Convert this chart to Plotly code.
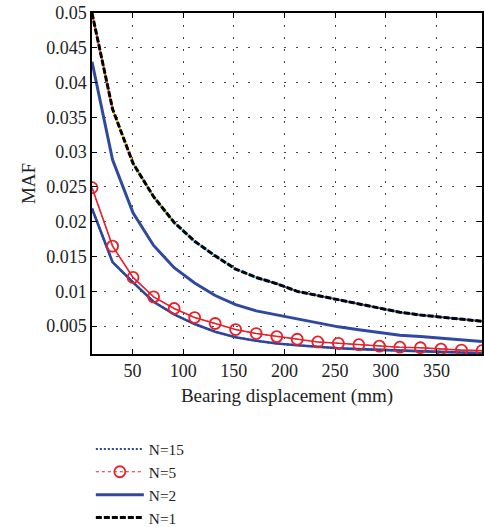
import plotly.graph_objects as go

# Data
x = [10, 30.3, 50.5, 70.8, 91.1, 111.3, 131.6, 151.8, 172.1, 192.4,
     212.6, 232.9, 253.2, 273.4, 293.7, 313.9, 334.2, 354.5, 374.7, 395]

n1 = [0.0500, 0.0362, 0.0284, 0.0236, 0.0199, 0.0172, 0.0151, 0.0132, 0.0120, 0.0111,
      0.0100, 0.0094, 0.0087, 0.0081, 0.0075, 0.0070, 0.0066, 0.0063, 0.0060, 0.0057]
n2 = [0.0430, 0.0289, 0.0213, 0.0166, 0.0134, 0.0112, 0.0094, 0.0081, 0.0072, 0.0066,
      0.0060, 0.0055, 0.0049, 0.0045, 0.0041, 0.0037, 0.0035, 0.0033, 0.0030, 0.0028]
n5 = [0.0249, 0.0165, 0.0120, 0.00921, 0.00754, 0.00624, 0.00538, 0.00451, 0.00394, 0.00350,
      0.00312, 0.00273, 0.00254, 0.00234, 0.00213, 0.00198, 0.00190, 0.00170, 0.00156, 0.00148]
n15 = [0.0219, 0.0142, 0.0113, 0.0085, 0.0067, 0.0053, 0.0042, 0.0034, 0.0029, 0.0025,
       0.00225, 0.0020, 0.00182, 0.0017, 0.00158, 0.00148, 0.0014, 0.0013, 0.00122, 0.00115]

x_ticks = [50, 100, 150, 200, 250, 300, 350]
y_ticks = [0.005, 0.01, 0.015, 0.02, 0.025, 0.03, 0.035, 0.04, 0.045, 0.05]
y_ticktext = ["0.005", "0.01", "0.015", "0.02", "0.025", "0.03", "0.035", "0.04", "0.045", "0.05"]

# colours of the thin curves seen through the gaps of the black dashes
under_segments = [(0, 2, "#D95319"), (1, 3, "#EDB120"), (2, 5, "#77AC30"),
                  (4, 9, "#4DBEEE"), (8, 20, "#3F51A8")]

BLUE = "#3048A0"
RED = "#E8202A"
FONT = "Liberation Serif, Times New Roman, serif"

fig = go.Figure()

# hidden underlay curves
for a, b, c in under_segments:
    fig.add_trace(go.Scatter(x=x[a:b], y=n1[a:b], mode="lines",
                             line=dict(color=c, width=2), showlegend=False,
                             hoverinfo="skip"))
fig.add_trace(go.Scatter(x=x[0:3], y=n15[0:3], mode="lines",
                         line=dict(color="#4DBEEE", width=2), showlegend=False, hoverinfo="skip"))

# N=1
fig.add_trace(go.Scatter(x=x, y=n1, mode="lines", name="N=1", legendrank=4,
                         line=dict(color="black", width=3, dash="6px,2px")))
# N=2
fig.add_trace(go.Scatter(x=x, y=n2, mode="lines", name="N=2", legendrank=3,
                         line=dict(color=BLUE, width=3)))
# N=15 : thick solid base + dotted line
fig.add_trace(go.Scatter(x=x, y=n15, mode="lines", showlegend=False, hoverinfo="skip",
                         line=dict(color=BLUE, width=2.6)))
fig.add_trace(go.Scatter(x=x, y=n15, mode="lines", name="N=15", legendrank=1,
                         line=dict(color="#2C4499", width=2, dash="2px,2px")))
# N=5 : red line + markers
fig.add_trace(go.Scatter(x=x, y=n5, mode="lines", showlegend=False, hoverinfo="skip",
                         line=dict(color=RED, width=1.6)))
fig.add_trace(go.Scatter(x=x, y=n5, mode="lines+markers", name="N=5", legendrank=2,
                         line=dict(color=RED, width=1, dash="dot"),
                         marker=dict(symbol="circle-open", size=11, color=RED,
                                     line=dict(width=1.8, color=RED))))

axis_common = dict(showline=True, linecolor="black", linewidth=1.5, mirror="ticks",
                   ticks="inside", ticklen=5, tickcolor="black", tickwidth=1,
                   showgrid=True, gridcolor="#444444", gridwidth=1, griddash="2px,10px",
                   zeroline=False, tickfont=dict(family=FONT, size=18, color="#222"))

fig.update_xaxes(range=[10, 395], tickvals=x_ticks,
                 title=dict(text="Bearing displacement (mm)", font=dict(family=FONT, size=19, color="#222"),
                            standoff=8),
                 **axis_common)
fig.update_yaxes(range=[0.001, 0.05], tickvals=y_ticks, ticktext=y_ticktext,
                 title=dict(text="MAF", font=dict(family=FONT, size=19, color="#222"), standoff=6),
                 **axis_common)

fig.update_layout(
    width=484, height=527,
    margin=dict(l=92, r=2, t=13, b=173, autoexpand=False),
    plot_bgcolor="white", paper_bgcolor="white",
    font=dict(family=FONT, color="#222"),
    showlegend=True,
    legend=dict(x=-0.003, y=-0.23, xanchor="left", yanchor="top",
                font=dict(family=FONT, size=15.3, color="#222"),
                bgcolor="rgba(0,0,0,0)", tracegroupgap=0, itemwidth=48),
)

fig.write_html("out.html", config={"displayModeBar": False},
               post_script="document.body.style.margin='0px';")
